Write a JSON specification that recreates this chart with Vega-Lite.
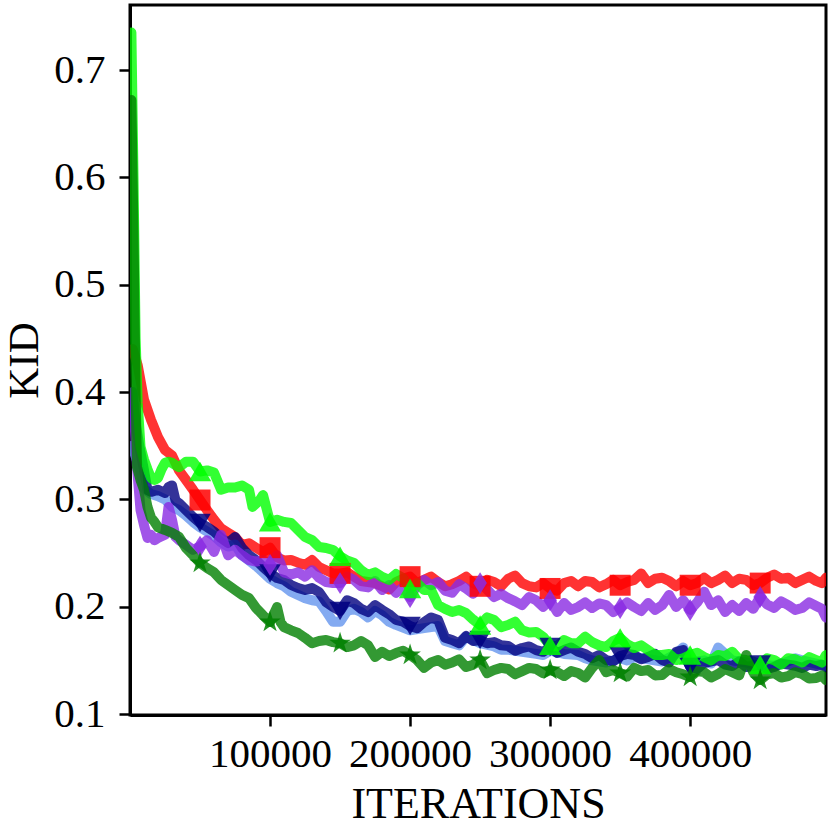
{
  "$schema": "https://vega.github.io/schema/vega-lite/v6.json",
  "width": 696,
  "height": 710,
  "autosize": {"type": "none"},
  "padding": {"left": 130, "top": 5, "right": 6, "bottom": 115},
  "background": "white",
  "config": {
    "view": {"stroke": "black", "strokeWidth": 3},
    "font": "Liberation Serif",
    "axis": {
      "grid": false,
      "domainColor": "black",
      "domainWidth": 3,
      "tickColor": "black",
      "tickWidth": 2.5,
      "tickSize": 11,
      "labelColor": "black",
      "titleColor": "black",
      "labelFont": "Liberation Serif",
      "titleFont": "Liberation Serif",
      "labelFontSize": 41,
      "titleFontSize": 44,
      "titleFontWeight": "normal"
    }
  },
  "data": {
    "values": [
      {"s":"red","i":2000,"k":0.44},{"s":"red","i":5500,"k":0.425},{"s":"red","i":10000,"k":0.393},{"s":"red","i":15000,"k":0.374},{"s":"red","i":20000,"k":0.358},{"s":"red","i":25000,"k":0.346},{"s":"red","i":30000,"k":0.341},{"s":"red","i":35000,"k":0.327},{"s":"red","i":40000,"k":0.318},{"s":"red","i":45000,"k":0.309},{"s":"red","i":50000,"k":0.2994},{"s":"red","i":55000,"k":0.29},{"s":"red","i":60000,"k":0.281},{"s":"red","i":65000,"k":0.273},{"s":"red","i":70000,"k":0.269},{"s":"red","i":75000,"k":0.265},{"s":"red","i":80000,"k":0.2575},{"s":"red","i":85000,"k":0.259},{"s":"red","i":90000,"k":0.255},{"s":"red","i":95000,"k":0.251},{"s":"red","i":100000,"k":0.255},{"s":"red","i":105000,"k":0.246},{"s":"red","i":110000,"k":0.243},{"s":"red","i":115000,"k":0.2435},{"s":"red","i":120000,"k":0.241},{"s":"red","i":125000,"k":0.239},{"s":"red","i":130000,"k":0.2435},{"s":"red","i":135000,"k":0.237},{"s":"red","i":140000,"k":0.234},{"s":"red","i":145000,"k":0.231},{"s":"red","i":150000,"k":0.231},{"s":"red","i":160000,"k":0.228},{"s":"red","i":170000,"k":0.223},{"s":"red","i":180000,"k":0.219},{"s":"red","i":190000,"k":0.223},{"s":"red","i":200000,"k":0.228},{"s":"red","i":210000,"k":0.225},{"s":"red","i":220000,"k":0.223},{"s":"red","i":230000,"k":0.221},{"s":"red","i":240000,"k":0.228},{"s":"red","i":250000,"k":0.219},{"s":"red","i":260000,"k":0.223},{"s":"red","i":270000,"k":0.226},{"s":"red","i":280000,"k":0.222},{"s":"red","i":290000,"k":0.218},{"s":"red","i":300000,"k":0.217},{"s":"red","i":310000,"k":0.222},{"s":"red","i":320000,"k":0.219},{"s":"red","i":330000,"k":0.223},{"s":"red","i":340000,"k":0.221},{"s":"red","i":350000,"k":0.22},{"s":"red","i":355000,"k":0.223},{"s":"red","i":360000,"k":0.225},{"s":"red","i":365000,"k":0.231},{"s":"red","i":370000,"k":0.222},{"s":"red","i":380000,"k":0.227},{"s":"red","i":390000,"k":0.219},{"s":"red","i":400000,"k":0.22},{"s":"red","i":410000,"k":0.227},{"s":"red","i":420000,"k":0.225},{"s":"red","i":430000,"k":0.222},{"s":"red","i":440000,"k":0.225},{"s":"red","i":450000,"k":0.222},{"s":"red","i":460000,"k":0.23},{"s":"red","i":470000,"k":0.227},{"s":"red","i":480000,"k":0.225},{"s":"red","i":490000,"k":0.224},{"s":"red","i":497000,"k":0.227},

      {"s":"blue","i":1500,"k":0.35},{"s":"blue","i":4000,"k":0.34},{"s":"blue","i":7500,"k":0.325},{"s":"blue","i":10000,"k":0.31},{"s":"blue","i":15000,"k":0.305},{"s":"blue","i":20000,"k":0.303},{"s":"blue","i":25000,"k":0.3},{"s":"blue","i":30000,"k":0.293},{"s":"blue","i":35000,"k":0.29},{"s":"blue","i":40000,"k":0.285},{"s":"blue","i":45000,"k":0.279},{"s":"blue","i":50000,"k":0.274},{"s":"blue","i":55000,"k":0.27},{"s":"blue","i":60000,"k":0.266},{"s":"blue","i":65000,"k":0.26},{"s":"blue","i":70000,"k":0.256},{"s":"blue","i":75000,"k":0.258},{"s":"blue","i":80000,"k":0.248},{"s":"blue","i":85000,"k":0.243},{"s":"blue","i":90000,"k":0.238},{"s":"blue","i":95000,"k":0.232},{"s":"blue","i":100000,"k":0.226},{"s":"blue","i":105000,"k":0.222},{"s":"blue","i":110000,"k":0.219},{"s":"blue","i":115000,"k":0.214},{"s":"blue","i":120000,"k":0.211},{"s":"blue","i":125000,"k":0.208},{"s":"blue","i":130000,"k":0.206},{"s":"blue","i":135000,"k":0.205},{"s":"blue","i":140000,"k":0.196},{"s":"blue","i":145000,"k":0.186},{"s":"blue","i":150000,"k":0.186},{"s":"blue","i":155000,"k":0.196},{"s":"blue","i":160000,"k":0.198},{"s":"blue","i":170000,"k":0.19},{"s":"blue","i":175000,"k":0.196},{"s":"blue","i":180000,"k":0.192},{"s":"blue","i":190000,"k":0.183},{"s":"blue","i":200000,"k":0.178},{"s":"blue","i":210000,"k":0.18},{"s":"blue","i":220000,"k":0.182},{"s":"blue","i":225000,"k":0.168},{"s":"blue","i":230000,"k":0.166},{"s":"blue","i":240000,"k":0.172},{"s":"blue","i":250000,"k":0.166},{"s":"blue","i":260000,"k":0.163},{"s":"blue","i":270000,"k":0.16},{"s":"blue","i":280000,"k":0.158},{"s":"blue","i":290000,"k":0.156},{"s":"blue","i":300000,"k":0.159},{"s":"blue","i":310000,"k":0.156},{"s":"blue","i":320000,"k":0.155},{"s":"blue","i":330000,"k":0.15},{"s":"blue","i":340000,"k":0.148},{"s":"blue","i":350000,"k":0.152},{"s":"blue","i":360000,"k":0.153},{"s":"blue","i":370000,"k":0.151},{"s":"blue","i":380000,"k":0.149},{"s":"blue","i":390000,"k":0.156},{"s":"blue","i":395000,"k":0.162},{"s":"blue","i":400000,"k":0.148},{"s":"blue","i":410000,"k":0.15},{"s":"blue","i":420000,"k":0.162},{"s":"blue","i":430000,"k":0.15},{"s":"blue","i":440000,"k":0.148},{"s":"blue","i":450000,"k":0.146},{"s":"blue","i":460000,"k":0.145},{"s":"blue","i":470000,"k":0.149},{"s":"blue","i":480000,"k":0.15},{"s":"blue","i":490000,"k":0.147},{"s":"blue","i":497000,"k":0.145},

      {"s":"navy","i":1500,"k":0.4},{"s":"navy","i":4000,"k":0.37},{"s":"navy","i":7500,"k":0.344},{"s":"navy","i":10000,"k":0.327},{"s":"navy","i":12500,"k":0.3087},{"s":"navy","i":15000,"k":0.307},{"s":"navy","i":20000,"k":0.309},{"s":"navy","i":25000,"k":0.306},{"s":"navy","i":27500,"k":0.3115},{"s":"navy","i":30000,"k":0.313},{"s":"navy","i":32500,"k":0.299},{"s":"navy","i":35000,"k":0.2965},{"s":"navy","i":40000,"k":0.29},{"s":"navy","i":45000,"k":0.2836},{"s":"navy","i":50000,"k":0.278},{"s":"navy","i":55000,"k":0.2743},{"s":"navy","i":60000,"k":0.27},{"s":"navy","i":65000,"k":0.264},{"s":"navy","i":70000,"k":0.2593},{"s":"navy","i":75000,"k":0.265},{"s":"navy","i":80000,"k":0.2547},{"s":"navy","i":85000,"k":0.248},{"s":"navy","i":90000,"k":0.2435},{"s":"navy","i":95000,"k":0.237},{"s":"navy","i":100000,"k":0.231},{"s":"navy","i":105000,"k":0.2267},{"s":"navy","i":110000,"k":0.2249},{"s":"navy","i":115000,"k":0.2202},{"s":"navy","i":120000,"k":0.2174},{"s":"navy","i":125000,"k":0.2155},{"s":"navy","i":130000,"k":0.2174},{"s":"navy","i":135000,"k":0.2137},{"s":"navy","i":140000,"k":0.2043},{"s":"navy","i":145000,"k":0.1997},{"s":"navy","i":150000,"k":0.196},{"s":"navy","i":155000,"k":0.206},{"s":"navy","i":160000,"k":0.2034},{"s":"navy","i":170000,"k":0.195},{"s":"navy","i":175000,"k":0.2015},{"s":"navy","i":180000,"k":0.197},{"s":"navy","i":190000,"k":0.1876},{"s":"navy","i":200000,"k":0.182},{"s":"navy","i":210000,"k":0.1857},{"s":"navy","i":220000,"k":0.1876},{"s":"navy","i":225000,"k":0.171},{"s":"navy","i":230000,"k":0.169},{"s":"navy","i":240000,"k":0.1727},{"s":"navy","i":250000,"k":0.169},{"s":"navy","i":260000,"k":0.167},{"s":"navy","i":270000,"k":0.1634},{"s":"navy","i":280000,"k":0.1615},{"s":"navy","i":290000,"k":0.1596},{"s":"navy","i":300000,"k":0.1624},{"s":"navy","i":310000,"k":0.1596},{"s":"navy","i":320000,"k":0.158},{"s":"navy","i":330000,"k":0.152},{"s":"navy","i":340000,"k":0.1503},{"s":"navy","i":350000,"k":0.154},{"s":"navy","i":360000,"k":0.155},{"s":"navy","i":370000,"k":0.1531},{"s":"navy","i":380000,"k":0.1503},{"s":"navy","i":390000,"k":0.158},{"s":"navy","i":395000,"k":0.1596},{"s":"navy","i":400000,"k":0.1438},{"s":"navy","i":410000,"k":0.1475},{"s":"navy","i":420000,"k":0.1503},{"s":"navy","i":430000,"k":0.1447},{"s":"navy","i":440000,"k":0.1438},{"s":"navy","i":450000,"k":0.146},{"s":"navy","i":460000,"k":0.1438},{"s":"navy","i":470000,"k":0.146},{"s":"navy","i":480000,"k":0.143},{"s":"navy","i":490000,"k":0.1447},{"s":"navy","i":497000,"k":0.1438},

      {"s":"purple","i":2000,"k":0.4},{"s":"purple","i":5000,"k":0.33},{"s":"purple","i":7500,"k":0.29},{"s":"purple","i":10000,"k":0.276},{"s":"purple","i":12500,"k":0.264},{"s":"purple","i":15000,"k":0.267},{"s":"purple","i":17500,"k":0.262},{"s":"purple","i":20000,"k":0.264},{"s":"purple","i":25000,"k":0.267},{"s":"purple","i":27500,"k":0.293},{"s":"purple","i":30000,"k":0.281},{"s":"purple","i":32500,"k":0.265},{"s":"purple","i":35000,"k":0.262},{"s":"purple","i":40000,"k":0.2575},{"s":"purple","i":45000,"k":0.253},{"s":"purple","i":50000,"k":0.256},{"s":"purple","i":55000,"k":0.262},{"s":"purple","i":60000,"k":0.251},{"s":"purple","i":65000,"k":0.267},{"s":"purple","i":70000,"k":0.248},{"s":"purple","i":75000,"k":0.253},{"s":"purple","i":80000,"k":0.248},{"s":"purple","i":85000,"k":0.2435},{"s":"purple","i":90000,"k":0.242},{"s":"purple","i":95000,"k":0.2435},{"s":"purple","i":100000,"k":0.239},{"s":"purple","i":105000,"k":0.248},{"s":"purple","i":110000,"k":0.232},{"s":"purple","i":115000,"k":0.23},{"s":"purple","i":120000,"k":0.232},{"s":"purple","i":125000,"k":0.228},{"s":"purple","i":130000,"k":0.234},{"s":"purple","i":135000,"k":0.227},{"s":"purple","i":140000,"k":0.223},{"s":"purple","i":145000,"k":0.222},{"s":"purple","i":150000,"k":0.222},{"s":"purple","i":160000,"k":0.225},{"s":"purple","i":170000,"k":0.218},{"s":"purple","i":180000,"k":0.2155},{"s":"purple","i":185000,"k":0.22},{"s":"purple","i":190000,"k":0.213},{"s":"purple","i":200000,"k":0.209},{"s":"purple","i":205000,"k":0.22},{"s":"purple","i":210000,"k":0.225},{"s":"purple","i":215000,"k":0.22},{"s":"purple","i":220000,"k":0.223},{"s":"purple","i":230000,"k":0.213},{"s":"purple","i":240000,"k":0.217},{"s":"purple","i":250000,"k":0.222},{"s":"purple","i":260000,"k":0.209},{"s":"purple","i":270000,"k":0.208},{"s":"purple","i":280000,"k":0.2015},{"s":"purple","i":290000,"k":0.206},{"s":"purple","i":300000,"k":0.206},{"s":"purple","i":305000,"k":0.195},{"s":"purple","i":310000,"k":0.2034},{"s":"purple","i":320000,"k":0.1997},{"s":"purple","i":330000,"k":0.1988},{"s":"purple","i":340000,"k":0.2015},{"s":"purple","i":350000,"k":0.1988},{"s":"purple","i":360000,"k":0.1997},{"s":"purple","i":370000,"k":0.2034},{"s":"purple","i":375000,"k":0.197},{"s":"purple","i":380000,"k":0.2015},{"s":"purple","i":385000,"k":0.211},{"s":"purple","i":390000,"k":0.1997},{"s":"purple","i":400000,"k":0.197},{"s":"purple","i":405000,"k":0.204},{"s":"purple","i":410000,"k":0.214},{"s":"purple","i":415000,"k":0.2015},{"s":"purple","i":420000,"k":0.206},{"s":"purple","i":425000,"k":0.195},{"s":"purple","i":430000,"k":0.2015},{"s":"purple","i":440000,"k":0.2034},{"s":"purple","i":450000,"k":0.209},{"s":"purple","i":460000,"k":0.1988},{"s":"purple","i":470000,"k":0.2015},{"s":"purple","i":480000,"k":0.1988},{"s":"purple","i":490000,"k":0.2006},{"s":"purple","i":497000,"k":0.19},

      {"s":"lime","i":1000,"k":0.735},{"s":"lime","i":2500,"k":0.6},{"s":"lime","i":4000,"k":0.45},{"s":"lime","i":5500,"k":0.39},{"s":"lime","i":7500,"k":0.349},{"s":"lime","i":10000,"k":0.337},{"s":"lime","i":12500,"k":0.328},{"s":"lime","i":15000,"k":0.32},{"s":"lime","i":17500,"k":0.318},{"s":"lime","i":20000,"k":0.32},{"s":"lime","i":22500,"k":0.328},{"s":"lime","i":25000,"k":0.334},{"s":"lime","i":27500,"k":0.335},{"s":"lime","i":30000,"k":0.334},{"s":"lime","i":35000,"k":0.33},{"s":"lime","i":40000,"k":0.335},{"s":"lime","i":45000,"k":0.335},{"s":"lime","i":50000,"k":0.326},{"s":"lime","i":55000,"k":0.327},{"s":"lime","i":60000,"k":0.325},{"s":"lime","i":65000,"k":0.309},{"s":"lime","i":70000,"k":0.311},{"s":"lime","i":75000,"k":0.311},{"s":"lime","i":80000,"k":0.313},{"s":"lime","i":85000,"k":0.309},{"s":"lime","i":87500,"k":0.293},{"s":"lime","i":92500,"k":0.299},{"s":"lime","i":95000,"k":0.304},{"s":"lime","i":100000,"k":0.279},{"s":"lime","i":105000,"k":0.281},{"s":"lime","i":110000,"k":0.279},{"s":"lime","i":115000,"k":0.278},{"s":"lime","i":120000,"k":0.2715},{"s":"lime","i":125000,"k":0.265},{"s":"lime","i":130000,"k":0.262},{"s":"lime","i":135000,"k":0.2556},{"s":"lime","i":140000,"k":0.2547},{"s":"lime","i":145000,"k":0.2528},{"s":"lime","i":150000,"k":0.247},{"s":"lime","i":160000,"k":0.2407},{"s":"lime","i":165000,"k":0.234},{"s":"lime","i":170000,"k":0.2295},{"s":"lime","i":180000,"k":0.2277},{"s":"lime","i":190000,"k":0.2305},{"s":"lime","i":195000,"k":0.2267},{"s":"lime","i":200000,"k":0.217},{"s":"lime","i":210000,"k":0.2155},{"s":"lime","i":215000,"k":0.2155},{"s":"lime","i":220000,"k":0.2015},{"s":"lime","i":230000,"k":0.195},{"s":"lime","i":240000,"k":0.194},{"s":"lime","i":250000,"k":0.183},{"s":"lime","i":260000,"k":0.1876},{"s":"lime","i":270000,"k":0.183},{"s":"lime","i":280000,"k":0.178},{"s":"lime","i":290000,"k":0.1765},{"s":"lime","i":300000,"k":0.164},{"s":"lime","i":310000,"k":0.169},{"s":"lime","i":320000,"k":0.166},{"s":"lime","i":325000,"k":0.172},{"s":"lime","i":330000,"k":0.167},{"s":"lime","i":340000,"k":0.1624},{"s":"lime","i":350000,"k":0.171},{"s":"lime","i":360000,"k":0.1615},{"s":"lime","i":370000,"k":0.1596},{"s":"lime","i":380000,"k":0.155},{"s":"lime","i":390000,"k":0.1503},{"s":"lime","i":400000,"k":0.155},{"s":"lime","i":410000,"k":0.1531},{"s":"lime","i":420000,"k":0.155},{"s":"lime","i":430000,"k":0.158},{"s":"lime","i":440000,"k":0.1503},{"s":"lime","i":450000,"k":0.146},{"s":"lime","i":460000,"k":0.1503},{"s":"lime","i":470000,"k":0.152},{"s":"lime","i":480000,"k":0.148},{"s":"lime","i":490000,"k":0.1503},{"s":"lime","i":497000,"k":0.155},

      {"s":"green","i":1000,"k":0.672},{"s":"green","i":2500,"k":0.55},{"s":"green","i":4000,"k":0.4},{"s":"green","i":5000,"k":0.33},{"s":"green","i":7500,"k":0.318},{"s":"green","i":10000,"k":0.309},{"s":"green","i":12500,"k":0.293},{"s":"green","i":15000,"k":0.283},{"s":"green","i":17500,"k":0.279},{"s":"green","i":20000,"k":0.274},{"s":"green","i":25000,"k":0.2715},{"s":"green","i":30000,"k":0.2687},{"s":"green","i":35000,"k":0.265},{"s":"green","i":40000,"k":0.2547},{"s":"green","i":45000,"k":0.248},{"s":"green","i":50000,"k":0.2407},{"s":"green","i":55000,"k":0.236},{"s":"green","i":60000,"k":0.232},{"s":"green","i":65000,"k":0.2249},{"s":"green","i":70000,"k":0.2202},{"s":"green","i":75000,"k":0.2155},{"s":"green","i":80000,"k":0.211},{"s":"green","i":85000,"k":0.208},{"s":"green","i":90000,"k":0.1988},{"s":"green","i":95000,"k":0.192},{"s":"green","i":100000,"k":0.1857},{"s":"green","i":105000,"k":0.1997},{"s":"green","i":107500,"k":0.1857},{"s":"green","i":110000,"k":0.181},{"s":"green","i":115000,"k":0.178},{"s":"green","i":120000,"k":0.1755},{"s":"green","i":125000,"k":0.171},{"s":"green","i":130000,"k":0.166},{"s":"green","i":135000,"k":0.168},{"s":"green","i":140000,"k":0.169},{"s":"green","i":145000,"k":0.167},{"s":"green","i":150000,"k":0.166},{"s":"green","i":155000,"k":0.1624},{"s":"green","i":160000,"k":0.164},{"s":"green","i":165000,"k":0.168},{"s":"green","i":170000,"k":0.164},{"s":"green","i":175000,"k":0.1531},{"s":"green","i":180000,"k":0.158},{"s":"green","i":190000,"k":0.1568},{"s":"green","i":200000,"k":0.155},{"s":"green","i":205000,"k":0.1503},{"s":"green","i":210000,"k":0.143},{"s":"green","i":220000,"k":0.1503},{"s":"green","i":230000,"k":0.148},{"s":"green","i":240000,"k":0.1438},{"s":"green","i":250000,"k":0.1503},{"s":"green","i":255000,"k":0.1382},{"s":"green","i":260000,"k":0.141},{"s":"green","i":270000,"k":0.142},{"s":"green","i":280000,"k":0.14},{"s":"green","i":290000,"k":0.142},{"s":"green","i":300000,"k":0.141},{"s":"green","i":310000,"k":0.1354},{"s":"green","i":320000,"k":0.1382},{"s":"green","i":330000,"k":0.143},{"s":"green","i":335000,"k":0.1503},{"s":"green","i":340000,"k":0.139},{"s":"green","i":350000,"k":0.1382},{"s":"green","i":360000,"k":0.143},{"s":"green","i":370000,"k":0.141},{"s":"green","i":380000,"k":0.1363},{"s":"green","i":390000,"k":0.139},{"s":"green","i":400000,"k":0.1345},{"s":"green","i":410000,"k":0.139},{"s":"green","i":420000,"k":0.1373},{"s":"green","i":430000,"k":0.139},{"s":"green","i":440000,"k":0.155},{"s":"green","i":445000,"k":0.139},{"s":"green","i":450000,"k":0.1317},{"s":"green","i":460000,"k":0.1382},{"s":"green","i":470000,"k":0.1354},{"s":"green","i":480000,"k":0.1373},{"s":"green","i":490000,"k":0.1335},{"s":"green","i":497000,"k":0.1317},

      {"s":"red","i":155000,"k":0.232},{"s":"red","i":165000,"k":0.224},{"s":"red","i":175000,"k":0.222},{"s":"red","i":185000,"k":0.216},{"s":"red","i":195000,"k":0.226},{"s":"red","i":205000,"k":0.222},{"s":"red","i":215000,"k":0.228},{"s":"red","i":225000,"k":0.219},{"s":"red","i":235000,"k":0.224},{"s":"red","i":245000,"k":0.222},{"s":"red","i":255000,"k":0.225},{"s":"red","i":265000,"k":0.219},{"s":"red","i":275000,"k":0.229},{"s":"red","i":285000,"k":0.219},{"s":"red","i":295000,"k":0.222},{"s":"red","i":305000,"k":0.215},{"s":"red","i":315000,"k":0.224},{"s":"red","i":325000,"k":0.224},{"s":"red","i":335000,"k":0.218},{"s":"red","i":345000,"k":0.225},{"s":"red","i":375000,"k":0.226},{"s":"red","i":385000,"k":0.224},{"s":"red","i":395000,"k":0.224},{"s":"red","i":405000,"k":0.222},{"s":"red","i":415000,"k":0.222},{"s":"red","i":425000,"k":0.229},{"s":"red","i":435000,"k":0.226},{"s":"red","i":445000,"k":0.22},{"s":"red","i":455000,"k":0.227},{"s":"red","i":465000,"k":0.226},{"s":"red","i":475000,"k":0.222},{"s":"red","i":485000,"k":0.228},{"s":"red","i":494000,"k":0.222},

      {"s":"blue","i":165000,"k":0.195},{"s":"blue","i":185000,"k":0.186},{"s":"blue","i":235000,"k":0.164},{"s":"blue","i":265000,"k":0.16},{"s":"blue","i":295000,"k":0.155},{"s":"blue","i":325000,"k":0.152},{"s":"blue","i":355000,"k":0.15},{"s":"blue","i":415000,"k":0.147},{"s":"blue","i":445000,"k":0.146},{"s":"blue","i":475000,"k":0.152},

      {"s":"navy","i":165000,"k":0.198},{"s":"navy","i":185000,"k":0.193},{"s":"navy","i":195000,"k":0.186},{"s":"navy","i":205000,"k":0.18},{"s":"navy","i":215000,"k":0.19},{"s":"navy","i":235000,"k":0.166},{"s":"navy","i":245000,"k":0.168},{"s":"navy","i":255000,"k":0.166},{"s":"navy","i":265000,"k":0.164},{"s":"navy","i":275000,"k":0.159},{"s":"navy","i":285000,"k":0.163},{"s":"navy","i":295000,"k":0.158},{"s":"navy","i":305000,"k":0.157},{"s":"navy","i":315000,"k":0.162},{"s":"navy","i":325000,"k":0.156},{"s":"navy","i":335000,"k":0.155},{"s":"navy","i":345000,"k":0.149},{"s":"navy","i":355000,"k":0.156},{"s":"navy","i":365000,"k":0.151},{"s":"navy","i":375000,"k":0.156},{"s":"navy","i":385000,"k":0.148},{"s":"navy","i":405000,"k":0.142},{"s":"navy","i":415000,"k":0.149},{"s":"navy","i":425000,"k":0.146},{"s":"navy","i":435000,"k":0.149},{"s":"navy","i":445000,"k":0.145},{"s":"navy","i":455000,"k":0.142},{"s":"navy","i":465000,"k":0.147},{"s":"navy","i":475000,"k":0.145},{"s":"navy","i":485000,"k":0.146},{"s":"navy","i":494000,"k":0.146},

      {"s":"purple","i":155000,"k":0.228},{"s":"purple","i":165000,"k":0.219},{"s":"purple","i":175000,"k":0.224},{"s":"purple","i":195000,"k":0.218},{"s":"purple","i":225000,"k":0.215},{"s":"purple","i":235000,"k":0.221},{"s":"purple","i":245000,"k":0.212},{"s":"purple","i":255000,"k":0.216},{"s":"purple","i":265000,"k":0.212},{"s":"purple","i":275000,"k":0.205},{"s":"purple","i":285000,"k":0.209},{"s":"purple","i":295000,"k":0.2},{"s":"purple","i":315000,"k":0.197},{"s":"purple","i":325000,"k":0.204},{"s":"purple","i":335000,"k":0.203},{"s":"purple","i":345000,"k":0.195},{"s":"purple","i":355000,"k":0.204},{"s":"purple","i":365000,"k":0.196},{"s":"purple","i":395000,"k":0.206},{"s":"purple","i":435000,"k":0.196},{"s":"purple","i":445000,"k":0.198},{"s":"purple","i":455000,"k":0.202},{"s":"purple","i":465000,"k":0.205},{"s":"purple","i":475000,"k":0.197},{"s":"purple","i":485000,"k":0.204},{"s":"purple","i":494000,"k":0.198},

      {"s":"lime","i":155000,"k":0.243},{"s":"lime","i":175000,"k":0.232},{"s":"lime","i":185000,"k":0.225},{"s":"lime","i":205000,"k":0.222},{"s":"lime","i":225000,"k":0.198},{"s":"lime","i":235000,"k":0.197},{"s":"lime","i":245000,"k":0.188},{"s":"lime","i":255000,"k":0.19},{"s":"lime","i":265000,"k":0.181},{"s":"lime","i":275000,"k":0.186},{"s":"lime","i":285000,"k":0.176},{"s":"lime","i":295000,"k":0.172},{"s":"lime","i":305000,"k":0.163},{"s":"lime","i":315000,"k":0.166},{"s":"lime","i":335000,"k":0.164},{"s":"lime","i":345000,"k":0.168},{"s":"lime","i":355000,"k":0.165},{"s":"lime","i":365000,"k":0.164},{"s":"lime","i":375000,"k":0.155},{"s":"lime","i":385000,"k":0.156},{"s":"lime","i":395000,"k":0.152},{"s":"lime","i":405000,"k":0.157},{"s":"lime","i":415000,"k":0.15},{"s":"lime","i":425000,"k":0.154},{"s":"lime","i":435000,"k":0.151},{"s":"lime","i":445000,"k":0.149},{"s":"lime","i":455000,"k":0.152},{"s":"lime","i":465000,"k":0.146},{"s":"lime","i":475000,"k":0.151},{"s":"lime","i":485000,"k":0.153},{"s":"lime","i":494000,"k":0.148},

      {"s":"green","i":185000,"k":0.154},{"s":"green","i":195000,"k":0.159},{"s":"green","i":215000,"k":0.148},{"s":"green","i":225000,"k":0.146},{"s":"green","i":235000,"k":0.151},{"s":"green","i":245000,"k":0.146},{"s":"green","i":265000,"k":0.143},{"s":"green","i":275000,"k":0.137},{"s":"green","i":285000,"k":0.143},{"s":"green","i":295000,"k":0.138},{"s":"green","i":305000,"k":0.139},{"s":"green","i":315000,"k":0.14},{"s":"green","i":325000,"k":0.134},{"s":"green","i":345000,"k":0.141},{"s":"green","i":355000,"k":0.135},{"s":"green","i":365000,"k":0.14},{"s":"green","i":375000,"k":0.136},{"s":"green","i":385000,"k":0.142},{"s":"green","i":395000,"k":0.137},{"s":"green","i":405000,"k":0.14},{"s":"green","i":415000,"k":0.134},{"s":"green","i":425000,"k":0.142},{"s":"green","i":435000,"k":0.136},{"s":"green","i":455000,"k":0.137},{"s":"green","i":465000,"k":0.134},{"s":"green","i":475000,"k":0.139},{"s":"green","i":485000,"k":0.133},{"s":"green","i":494000,"k":0.136}
    ]
  },
  "encoding": {
    "x": {
      "field": "i", "type": "quantitative",
      "scale": {"domain": [0, 497000], "nice": false, "zero": false},
      "axis": {"values": [100000, 200000, 300000, 400000], "format": "d", "title": "ITERATIONS", "labelPadding": 8, "titlePadding": 8, "labelFlush": false}
    },
    "y": {
      "field": "k", "type": "quantitative",
      "scale": {"domain": [0.0991, 0.7606], "nice": false, "zero": false},
      "axis": {"values": [0.1, 0.2, 0.3, 0.4, 0.5, 0.6, 0.7], "format": ".1f", "title": "KID", "titleFontSize": 43, "labelPadding": 14, "titlePadding": 7, "labelFlush": false}
    },
    "color": {
      "field": "s", "type": "nominal", "legend": null,
      "scale": {
        "domain": ["red", "blue", "navy", "purple", "lime", "green"],
        "range": ["#ff0000", "#6495ed", "#000080", "#8a2be2", "#00ff00", "#008000"]
      }
    }
  },
  "layer": [
    {
      "mark": {"type": "line", "strokeWidth": 10, "opacity": 0.8, "strokeCap": "round", "strokeJoin": "round", "clip": true},
      "encoding": {"order": {"field": "i", "type": "quantitative"}}
    },
    {
      "transform": [{"filter": "datum.i % 50000 == 0 && datum.i > 0 && datum.s != 'blue'"}],
      "mark": {"type": "point", "filled": true, "opacity": 0.85, "clip": true},
      "encoding": {
        "shape": {
          "field": "s", "type": "nominal", "legend": null,
          "scale": {
            "domain": ["red", "navy", "purple", "lime", "green"],
            "range": ["square", "triangle-down", "M0,-1L0.62,0L0,1L-0.62,0Z", "triangle-up", "M0,-1L0.2245,-0.309L0.951,-0.309L0.363,0.118L0.588,0.809L0,0.382L-0.588,0.809L-0.363,0.118L-0.951,-0.309L-0.2245,-0.309Z"]
          }
        },
        "size": {
          "field": "s", "type": "nominal", "legend": null,
          "scale": {"domain": ["red", "navy", "purple", "lime", "green"], "range": [440, 520, 760, 520, 300]}
        }
      }
    }
  ]
}
